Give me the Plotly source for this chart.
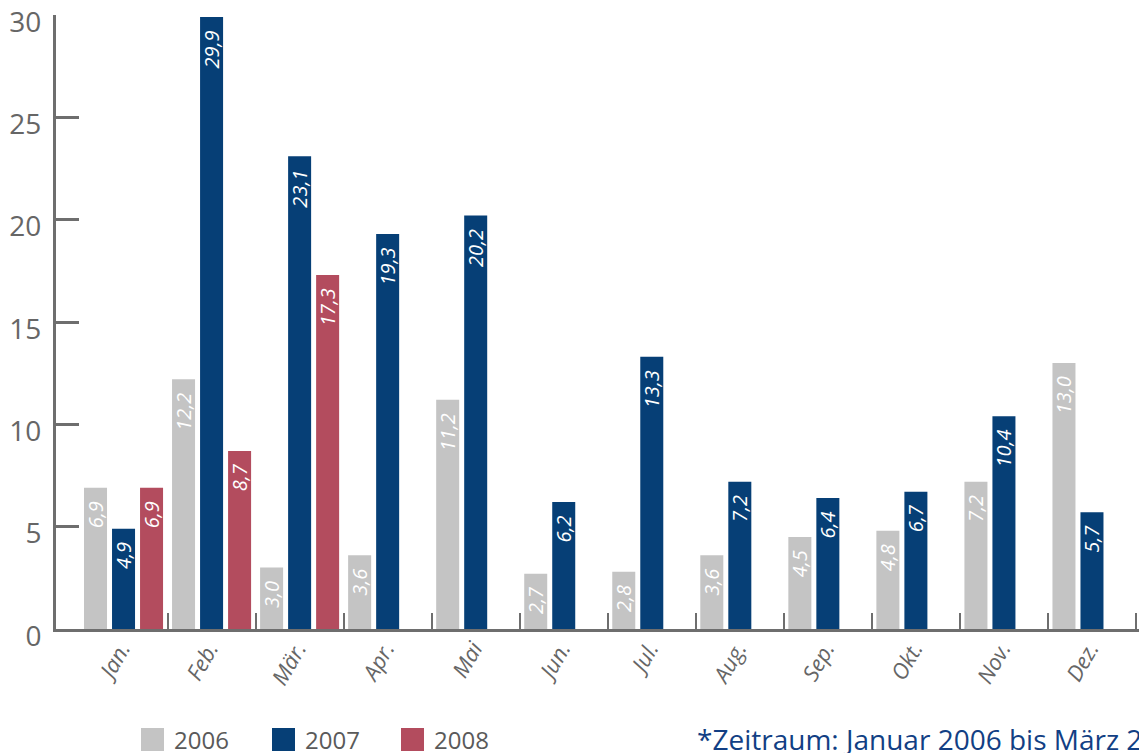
import plotly.graph_objects as go

months = ["Jan.", "Feb.", "Mär.", "Apr.", "Mai", "Jun.", "Jul.", "Aug.", "Sep.", "Okt.", "Nov.", "Dez."]
series_names = ["2006", "2007", "2008"]
v2006 = [6.9, 12.2, 3.0, 3.6, 11.2, 2.7, 2.8, 3.6, 4.5, 4.8, 7.2, 13.0]
v2007 = [4.9, 29.9, 23.1, 19.3, 20.2, 6.2, 13.3, 7.2, 6.4, 6.7, 10.4, 5.7]
v2008 = [6.9, 8.7, 17.3, None, None, None, None, None, None, None, None, None]
colors = ["#c4c4c4", "#063f76", "#b34c5e"]
y_ticks = [0, 5, 10, 15, 20, 25, 30]
footnote = "*Zeitraum: Januar 2006 bis März 2008"

FONT = "Open Sans"
W, H = 1139, 753
L, R, T, B = 56, 0, 15, 124

bar_w = 23 / 88
offsets = [(-28 - 11.5) / 88, -11.5 / 88, (28 - 11.5) / 88]

fig = go.Figure()
for name, vals, col, off in zip(series_names, [v2006, v2007, v2008], colors, offsets):
    fig.add_trace(go.Bar(
        x=list(range(len(months))), y=vals, name=name,
        marker=dict(color=col, line=dict(width=0)),
        width=bar_w, offset=off,
        texttemplate="%{y:.1f}\u00a0\u00a0", textposition="inside", insidetextanchor="end",
        textangle=-90, constraintext="none",
        textfont=dict(family=FONT, size=20, color="white", style="italic"),
        cliponaxis=False,
    ))

xr = [-0.5 - 23.5 / 88, 11.5 + 3 / 88]
fig.update_layout(
    width=W, height=H,
    margin=dict(l=L, r=R, t=T, b=B, pad=0, autoexpand=False),
    barmode="overlay",
    separators=",.",
    showlegend=False,
    plot_bgcolor="white", paper_bgcolor="white",
    xaxis=dict(
        range=xr, tickmode="array", tickvals=list(range(len(months))), ticktext=months,
        tickangle=-60, ticks="", showgrid=False, zeroline=False, automargin=False,
        showline=True, linecolor="#6e6e6e", linewidth=3,
        tickfont=dict(family=FONT, size=22, color="#666666", style="italic"),
        ticklabelstandoff=-5, ticklabelshift=-2, ticklabeloverflow="allow",
    ),
    xaxis2=dict(
        range=xr, overlaying="x", side="bottom", anchor="y", automargin=False,
        tickmode="array", tickvals=[i + 0.5 for i in range(len(months))],
        ticks="inside", ticklen=16, tickwidth=2, tickcolor="#6e6e6e",
        showticklabels=False, showgrid=False, zeroline=False, showline=False,
    ),
    yaxis=dict(
        range=[0, 30], tickmode="array", tickvals=y_ticks, automargin=False,
        ticks="inside", ticklen=23, tickwidth=3, tickcolor="#6e6e6e",
        showgrid=False, zeroline=False, showline=True, linecolor="#6e6e6e", linewidth=3,
        tickfont=dict(family=FONT, size=28, color="#666666"),
        ticklabelstandoff=6, ticklabelshift=7, ticklabeloverflow="allow",
    ),
)
fig.add_trace(go.Scatter(x=[None], y=[None], xaxis="x2", showlegend=False, hoverinfo="skip"))

pw = W - L - R
ph = H - T - B
def px_x(p):
    return (p - L) / pw
def px_y(p):
    return (H - B - p) / ph

leg_x = [141, 272, 401]
for name, col, lx in zip(series_names, colors, leg_x):
    fig.add_shape(type="rect", xref="paper", yref="paper",
                  x0=px_x(lx), x1=px_x(lx + 23), y0=px_y(751), y1=px_y(728),
                  fillcolor=col, line=dict(width=0))
    fig.add_annotation(xref="paper", yref="paper", x=px_x(lx + 31), y=px_y(739),
                       xanchor="left", yanchor="middle", text=name, showarrow=False,
                       font=dict(family=FONT, size=24, color="#5a5a5a"))

fig.add_annotation(xref="paper", yref="paper", x=px_x(695), y=px_y(739),
                   xanchor="left", yanchor="middle", text=footnote, showarrow=False,
                   font=dict(family=FONT, size=28, color="#123f84"))

fig.write_html("out.html", config={"displayModeBar": False},
               post_script="document.body.style.margin='0px';document.body.style.overflow='hidden';")
